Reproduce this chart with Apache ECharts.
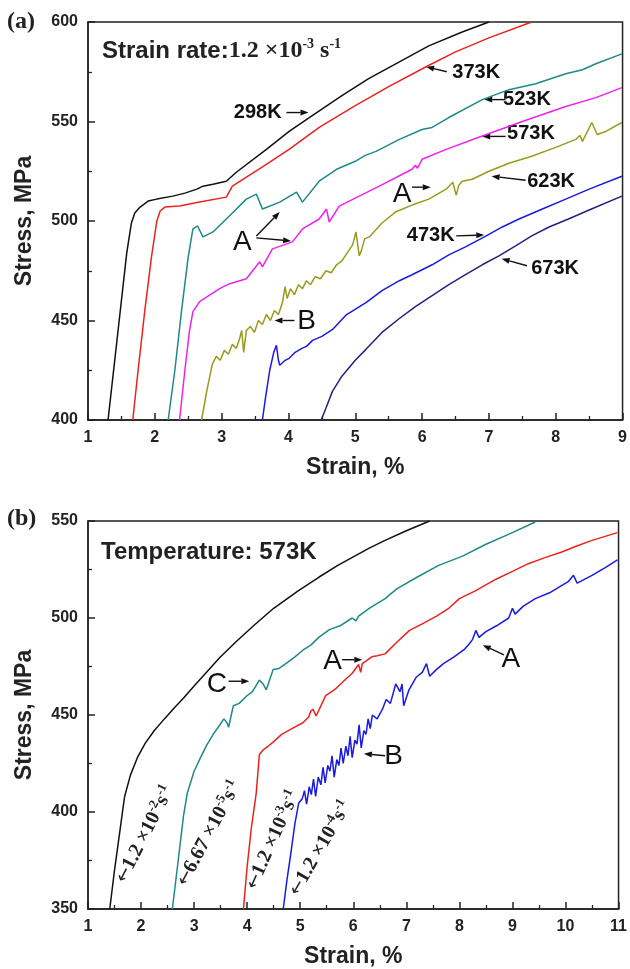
<!DOCTYPE html>
<html>
<head>
<meta charset="utf-8">
<script src="https://cdn.jsdelivr.net/npm/echarts@6/dist/echarts.min.js"></script>
<style>
  html, body { margin: 0; padding: 0; background: #fff; }
  #chart { width: 630px; height: 969px; }
</style>
</head>
<body>
<div id="chart"></div>
<script>
// (a) strain rate 1.2e-3 s-1, curves per temperature  [strain %, stress MPa]
var k298 = [[1.30,400],[1.40,430],[1.50,460],[1.58,484],[1.65,499],[1.70,504],[1.78,507],[1.90,510],[2.03,511],[2.27,512.5],[2.45,514],[2.63,516],[2.72,517.5],[2.87,518.5],[3.07,520],[3.22,524.5],[3.67,536],[4.01,545],[4.40,554],[4.80,563],[5.20,571.5],[5.66,580],[6.10,588],[6.60,595],[7.00,600]];
var k373 = [[1.67,400],[1.75,425],[1.85,455],[1.95,482],[2.03,500],[2.08,505],[2.15,507],[2.37,507.5],[2.67,509.5],[3.07,512],[3.16,517.5],[3.60,527],[4.01,536],[4.46,547],[5.00,558],[5.50,567.5],[6.06,577.5],[6.50,585],[7.00,592],[7.64,600]];
var k523 = [[2.20,400],[2.30,425],[2.40,455],[2.50,482],[2.57,496],[2.64,497.5],[2.72,492],[2.87,494.5],[3.10,502],[3.37,511],[3.52,513.5],[3.61,506],[3.87,509.5],[4.12,514.5],[4.21,509.5],[4.46,520],[4.72,526],[5.00,530],[5.15,533],[5.31,535],[5.66,541],[6.00,546],[6.15,547],[6.40,552],[6.90,561],[7.30,566],[7.70,569],[8.15,574],[8.40,576],[8.60,579],[8.99,584]];
var k573 = [[2.37,400],[2.45,425],[2.52,445],[2.57,454.5],[2.67,459.5],[2.97,466],[3.12,468.5],[3.37,471],[3.57,479.5],[3.61,477],[3.76,486],[4.06,489.5],[4.21,496],[4.46,501],[4.57,506],[4.61,499.5],[4.76,507.5],[5.36,517.5],[5.85,526],[5.90,528],[5.93,526.5],[6.00,531],[6.36,536],[6.88,542.5],[7.50,550],[8.15,557.5],[8.60,562],[8.99,567]];
var k623 = [[2.70,400],[2.78,415],[2.86,428],[2.92,432],[2.98,430],[3.04,435],[3.10,433],[3.16,438],[3.22,436],[3.27,441],[3.30,445],[3.33,434],[3.37,445],[3.43,447],[3.49,444],[3.55,450],[3.61,448],[3.67,453],[3.73,450],[3.79,455],[3.85,453],[3.91,459],[3.95,467],[3.98,461],[4.03,466],[4.09,463],[4.15,468],[4.21,466],[4.27,470],[4.33,468],[4.40,472],[4.48,471],[4.56,475],[4.64,474],[4.72,478],[4.80,480],[4.88,484],[4.96,488],[5.01,494.5],[5.06,482.5],[5.09,485],[5.14,491],[5.21,492],[5.40,499],[5.60,504.5],[5.85,508],[6.10,511],[6.36,516],[6.46,519.5],[6.51,513],[6.55,518],[6.60,520],[6.75,521],[7.00,525],[7.30,529],[7.64,532.5],[8.00,537],[8.30,541],[8.36,543],[8.40,540],[8.54,549.5],[8.62,543.5],[8.75,545],[8.99,549.5]];
var k473 = [[3.61,400],[3.66,412],[3.72,425],[3.78,434],[3.82,437.5],[3.85,430],[3.87,427.5],[3.95,430],[4.01,431],[4.10,434],[4.20,436],[4.27,437],[4.36,440],[4.50,442],[4.66,445.5],[4.87,453],[5.16,459],[5.40,465],[5.66,470],[5.85,473],[6.15,478],[6.40,483],[6.65,487],[6.96,492.5],[7.20,497],[7.45,501],[7.80,506],[8.15,511],[8.50,516],[8.99,522.5]];
var k673 = [[4.49,400],[4.55,405],[4.66,414.5],[4.80,422],[5.00,430],[5.16,435.5],[5.40,444],[5.66,451],[5.90,457],[6.15,462.5],[6.40,468],[6.65,473],[6.90,478],[7.15,482.5],[7.40,487.5],[7.64,492.5],[7.90,497],[8.19,501],[8.50,505.5],[8.99,512.5]];

// (b) 573 K, curves per strain rate
var r12e2 = [[1.41,350],[1.50,370],[1.57,384],[1.62,394],[1.69,408],[1.80,419],[1.93,428],[2.08,435.5],[2.25,442],[2.44,448],[2.62,453.5],[2.81,459],[3.00,465],[3.20,471],[3.48,479.5],[3.80,488],[4.12,496],[4.50,505],[4.96,514],[5.35,521],[5.70,527],[6.00,531.5],[6.30,536],[6.60,540],[7.00,545],[7.44,550]];
var r667e5 = [[2.59,350],[2.70,375],[2.80,398],[2.87,409.5],[3.00,421],[3.12,428],[3.24,434.6],[3.36,440],[3.48,444.7],[3.56,448],[3.62,446],[3.65,443.7],[3.74,454.8],[3.85,456],[3.99,459.8],[4.10,462],[4.23,468],[4.30,466],[4.36,463],[4.49,473.4],[4.60,474],[4.73,476.5],[4.90,480],[5.05,483.4],[5.20,486],[5.35,490],[5.55,494],[5.75,496],[5.98,500],[6.05,498.5],[6.10,501],[6.30,505],[6.60,510],[6.82,515],[7.20,521],[7.60,527],[8.07,532],[8.50,538],[9.00,544],[9.43,549.5]];
var r12e3 = [[3.93,350],[4.00,372],[4.08,392],[4.17,409.5],[4.23,429.6],[4.30,432],[4.40,434],[4.49,436],[4.65,440],[4.86,443.2],[5.05,446],[5.16,449],[5.20,452],[5.24,453],[5.30,449.5],[5.48,460],[5.66,463.3],[5.80,467],[5.98,471.5],[6.10,476],[6.14,472],[6.17,476.5],[6.25,478],[6.35,480],[6.45,480.5],[6.60,481.5],[6.80,487],[7.06,493.6],[7.30,497],[7.57,501],[7.80,505],[8.00,510],[8.30,514],[8.69,520],[9.00,524],[9.30,528],[9.60,531],[9.93,534],[10.20,537],[10.50,540],[10.98,544]];
var r12e4 = [[4.68,350],[4.75,365],[4.82,378],[4.90,394],[4.97,404.5],[5.04,407],[5.08,411],[5.12,404],[5.17,413],[5.21,409],[5.25,417],[5.29,408],[5.34,418],[5.39,414],[5.43,423],[5.47,415],[5.52,424],[5.56,421],[5.60,429],[5.64,418],[5.69,427],[5.73,424],[5.77,433],[5.81,425],[5.86,434],[5.90,429],[5.94,439],[5.98,428],[6.03,437],[6.07,435],[6.11,445],[6.15,433],[6.20,442],[6.24,440],[6.28,448],[6.32,443],[6.36,450],[6.45,448],[6.55,453],[6.62,458],[6.70,456],[6.80,466],[6.88,462],[6.92,466],[6.95,454.8],[7.05,463],[7.19,469.6],[7.30,472],[7.38,476.5],[7.44,470],[7.55,473],[7.70,476.5],[7.90,480],[8.10,484],[8.18,486.5],[8.25,489],[8.31,493.6],[8.37,490],[8.50,493],[8.70,496],[8.93,500],[9.00,505],[9.05,502],[9.20,506],[9.43,510],[9.70,513],[10.05,518.7],[10.15,522],[10.22,518],[10.50,522],[10.75,526],[10.98,530]];

// annotations in data coordinates
var tagsA = [['298K',3.54,554.5,'t'],['373K',6.81,574.5,'t'],['523K',7.57,561,'t'],['573K',7.63,544,'t'],['623K',7.93,520,'t'],['473K',6.13,492.5,'t'],['673K',7.99,476,'t'],['A',5.70,513.5,'L'],['A',3.31,489.5,'L'],['B',4.27,449.5,'L']];
var arrowsA = [[[3.97,554.5],[4.30,554.5]],[[6.37,575],[6.06,577.5]],[[7.25,561],[6.93,561]],[[7.25,542.5],[6.90,542.5]],[[7.55,520.5],[7.04,522.5]],[[6.51,492.5],[6.93,493]],[[7.57,477.5],[7.19,481]],[[5.85,517],[6.13,517]],[[3.52,492.5],[3.87,504.5]],[[3.52,491.5],[4.04,490]],[[4.09,450],[3.79,450]]];
var tagsB = [['C',3.43,465.9,'L'],['A',5.61,477.5,'L'],['A',8.97,478.5,'L'],['B',6.76,428.6,'L']];
var arrowsB = [[[3.65,467.4],[4.04,467.4]],[[5.79,478.5],[6.17,478.5]],[[8.84,481],[8.44,486]],[[6.60,429],[6.20,430]]];
var rateTags = [['-2','1.2 ×10',1.62,364.1,63],['-5','6.67 ×10',2.77,362.6,62],['-3','1.2 ×10',4.08,360.6,66],['-4','1.2 ×10',4.88,357.6,60]];

var chart = echarts.init(document.getElementById('chart'));
var tickFont = { fontFamily: 'Liberation Sans', fontWeight: 'bold', fontSize: 16, color: '#222' };
var nameFont = { fontFamily: 'Liberation Sans', fontWeight: 'bold', fontSize: 23, color: '#222' };

function xAx(grid, max) {
    return {
        gridIndex: grid, type: 'value', min: 1, max: max, interval: 1,
        name: 'Strain, %', nameLocation: 'middle', nameGap: 36, nameTextStyle: nameFont,
        axisLine: { lineStyle: { color: '#222', width: 1.5 } },
        axisTick: { inside: true, length: 7, lineStyle: { color: '#222', width: 1.5 } },
        minorTick: { show: true, splitNumber: 2, length: 4, lineStyle: { color: '#222', width: 1.3 } },
        axisLabel: Object.assign({ margin: 10 }, tickFont),
        splitLine: { show: false }
    };
}
function yAx(grid, min, max) {
    return {
        gridIndex: grid, type: 'value', min: min, max: max, interval: 50,
        name: 'Stress, MPa', nameLocation: 'middle', nameGap: 52, nameTextStyle: nameFont,
        axisLine: { lineStyle: { color: '#222', width: 1.5 } },
        axisTick: { inside: true, length: 7, lineStyle: { color: '#222', width: 1.5 } },
        minorTick: { show: true, splitNumber: 2, length: 4, lineStyle: { color: '#222', width: 1.3 } },
        axisLabel: Object.assign({ margin: 10 }, tickFont),
        splitLine: { show: false }
    };
}
function line(data, color, g) {
    return { type: 'line', data: data, xAxisIndex: g, yAxisIndex: g, showSymbol: false, symbol: 'none',
             lineStyle: { color: color, width: 1.5 }, silent: true, animation: false };
}

chart.setOption({
    animation: false,
    grid: [
        { left: 88, top: 22, width: 536, height: 398, show: true, borderColor: '#222', borderWidth: 1.5 },
        { left: 88, top: 521, width: 536, height: 397, show: true, borderColor: '#222', borderWidth: 1.5 }
    ],
    xAxis: [xAx(0, 9), xAx(1, 11)],
    yAxis: [yAx(0, 400, 600), yAx(1, 350, 550)],
    series: [
        line(k298, '#111111', 0), line(k373, '#e8231f', 0), line(k523, '#1f8888', 0),
        line(k573, '#ee22ee', 0), line(k623, '#9a9a1e', 0), line(k473, '#1a1ae0', 0), line(k673, '#22227e', 0),
        line(r12e2, '#111111', 1), line(r667e5, '#1f8888', 1), line(r12e3, '#e8231f', 1), line(r12e4, '#1a1ae0', 1)
    ]
});

function arrow(p, q) {
    var dx = q[0] - p[0], dy = q[1] - p[1], len = Math.sqrt(dx * dx + dy * dy);
    var ux = dx / len, uy = dy / len, hl = 8, hw = 3;
    var bx = q[0] - ux * hl, by = q[1] - uy * hl;
    return [
        { type: 'line', shape: { x1: p[0], y1: p[1], x2: bx, y2: by }, style: { stroke: '#111', lineWidth: 1.4 } },
        { type: 'polygon', shape: { points: [[q[0], q[1]], [bx - uy * hw, by + ux * hw], [bx + uy * hw, by - ux * hw]] }, style: { fill: '#111' } }
    ];
}

var els = [];
var serif = 'Liberation Serif';
els.push({ type: 'text', left: 7, top: 10, style: { text: '(a)', font: 'bold 24px ' + serif, fill: '#222' } });
els.push({ type: 'text', left: 7, top: 507, style: { text: '(b)', font: 'bold 24px ' + serif, fill: '#222' } });
els.push({ type: 'text', x: 102, y: 51, style: {
    text: '{a|Strain rate:}{b|1.2 ×10}{s|-3}{b| s}{s|-1}', verticalAlign: 'middle',
    rich: {
        a: { fontFamily: 'Liberation Sans', fontWeight: 'bold', fontSize: 24, fill: '#222', lineHeight: 28 },
        b: { fontFamily: serif, fontWeight: 'bold', fontSize: 24, fill: '#222', lineHeight: 28 },
        s: { fontFamily: serif, fontWeight: 'bold', fontSize: 14, fill: '#222', verticalAlign: 'top', lineHeight: 28 }
    } } });
els.push({ type: 'text', x: 101, y: 552, style: { text: 'Temperature: 573K', verticalAlign: 'middle',
    font: 'bold 24px Liberation Sans', fill: '#222' } });

function addTags(tags, arrows, g) {
    tags.forEach(function (t) {
        var p = chart.convertToPixel({ gridIndex: g }, [t[1], t[2]]);
        els.push({ type: 'text', x: p[0], y: p[1], style: {
            text: t[0], align: 'center', verticalAlign: 'middle', fill: '#111',
            font: t[3] === 'L' ? 'normal 28px Liberation Sans' : 'bold 20px Liberation Sans' } });
    });
    arrows.forEach(function (a) {
        var p = chart.convertToPixel({ gridIndex: g }, a[0]);
        var q = chart.convertToPixel({ gridIndex: g }, a[1]);
        els.push.apply(els, arrow(p, q));
    });
}
addTags(tagsA, arrowsA, 0);
addTags(tagsB, arrowsB, 1);

rateTags.forEach(function (r) {
    var p = chart.convertToPixel({ gridIndex: 1 }, [r[2], r[3]]);
    els.push({ type: 'text', x: p[0], y: p[1], rotation: r[4] * Math.PI / 180, style: {
        text: '{a|←}{b|' + r[1] + '}{s|' + r[0] + '}{b|s}{s|-1}', align: 'left', verticalAlign: 'middle',
        rich: {
            a: { fontFamily: 'DejaVu Sans', fontSize: 18, fill: '#222', lineHeight: 24 },
            b: { fontFamily: serif, fontWeight: 'bold', fontSize: 20, fill: '#222', lineHeight: 24 },
            s: { fontFamily: serif, fontWeight: 'bold', fontSize: 13, fill: '#222', verticalAlign: 'top', lineHeight: 24 }
        } } });
});

chart.setOption({ graphic: els });
</script>
</body>
</html>
